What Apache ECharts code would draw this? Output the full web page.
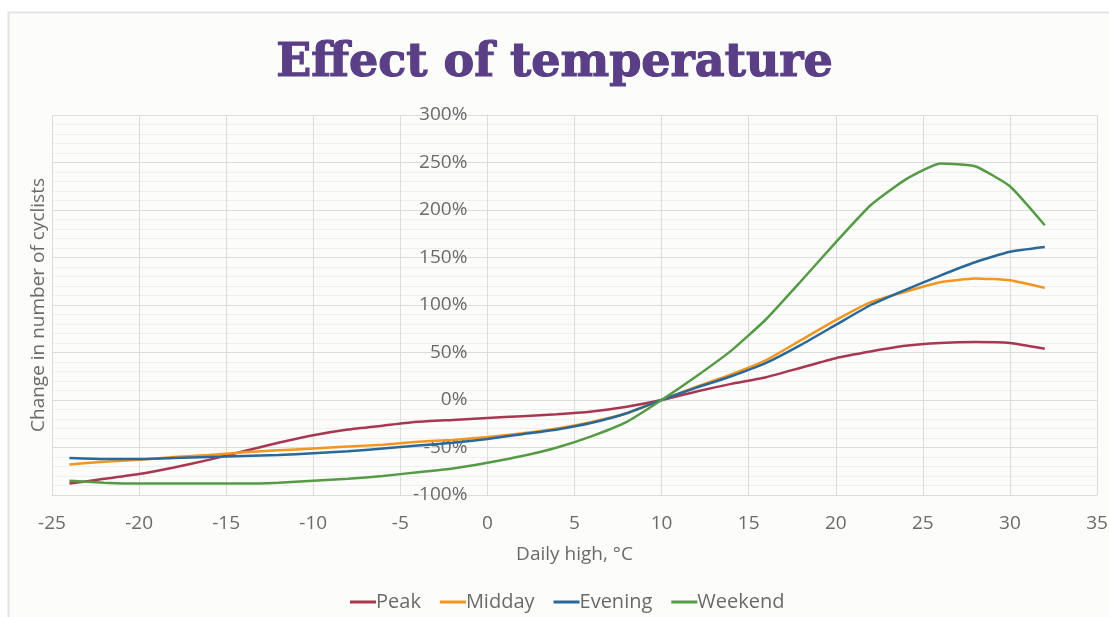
<!DOCTYPE html>
<html>
<head>
<meta charset="utf-8">
<title>Effect of temperature</title>
<script src="https://cdn.jsdelivr.net/npm/echarts@6/dist/echarts.min.js"></script>
<style>
  html, body { margin: 0; padding: 0; background: #ffffff; }
  #chart { width: 1109px; height: 617px; }
</style>
</head>
<body>
<div id="chart"></div>
<script>
// Daily high temperature (°C), sampled every 2 degrees
const temperatures = [-24, -22, -20, -18, -16, -14, -12, -10, -8, -6, -4, -2, 0, 2, 4, 6, 8,
                      10, 12, 14, 16, 18, 20, 22, 24, 26, 28, 30, 32];

// Change in number of cyclists (%) relative to a 10 °C day
const peak    = [-88, -83, -78, -71, -63, -54, -45, -37, -31, -27, -23, -21, -19, -17, -15, -12, -7,
                 0, 9, 17, 24, 34, 44, 51, 57, 60, 61, 60, 54];
const midday  = [-68, -65, -63, -60, -58, -55, -53, -51, -49, -47, -44, -42, -39, -35, -30, -23, -14,
                 0, 14, 27, 42, 63, 84, 103, 114, 124, 128, 126, 118];
const evening = [-61, -62, -62, -61, -60, -59, -58, -56, -54, -51, -48, -45, -41, -36, -31, -24, -14,
                 0, 13, 25, 39, 58, 79, 100, 116, 131, 145, 156, 161];
const weekend = [-85, -87, -88, -88, -88, -88, -87, -85, -83, -80, -76, -72, -66, -59, -50, -38, -23,
                 0, 25, 52, 85, 125, 166, 205, 232, 249, 246, 225, 184];

const seriesNames  = ['Peak', 'Midday', 'Evening', 'Weekend'];
const seriesValues = [peak, midday, evening, weekend];
const seriesColors = ['#a8384f', '#f2961f', '#2a6899', '#559a45'];

const xTicks = { min: -25, max: 35, interval: 5 };
const yTicks = { min: -100, max: 300, interval: 50 };

const labelFont = '"Open Sans", "DejaVu Sans", sans-serif';
const textGray = '#6a6a6a';
const gridColor = '#dcdcdc';

// plot rectangle
const gridLeft = 52, gridRight = 12, gridTop = 115, gridBottom = 122;
const plotWidth = 1109 - gridLeft - gridRight;
// the percentage scale sits on the 0 °C line
const zeroOffset = plotWidth * (0 - xTicks.min) / (xTicks.max - xTicks.min);

const chart = echarts.init(document.getElementById('chart'), null, { renderer: 'canvas' });

chart.setOption({
  backgroundColor: '#ffffff',
  animation: false,
  graphic: [{
    type: 'rect',
    z: -10,
    silent: true,
    shape: { x: 8.5, y: 12.5, width: 1120, height: 620 },
    style: { fill: '#fcfcfb', stroke: '#e4e4e4', lineWidth: 2 }
  }],
  title: {
    text: 'Effect of temperature',
    left: 'center',
    top: 36,
    textStyle: {
      fontFamily: '"DejaVu Serif", serif',
      fontWeight: 'bold',
      fontSize: 46,
      color: '#5a3e86',
      textBorderColor: '#5a3e86',
      textBorderWidth: 1.2
    }
  },
  legend: {
    top: 587,
    left: 345,
    itemWidth: 26,
    itemHeight: 3,
    itemGap: 19,
    icon: 'rect',
    textStyle: { fontFamily: labelFont, fontSize: 20, color: textGray, padding: [0, 0, 0, -5] },
    data: seriesNames
  },
  grid: {
    left: gridLeft, right: gridRight, top: gridTop, bottom: gridBottom,
    containLabel: false,
    outerBoundsMode: 'none'
  },
  xAxis: {
    type: 'value',
    min: xTicks.min,
    max: xTicks.max,
    interval: xTicks.interval,
    name: 'Daily high, °C',
    nameLocation: 'middle',
    nameGap: 50,
    nameMoveOverlap: false,
    nameTextStyle: { fontFamily: labelFont, fontSize: 19, color: textGray },
    axisLine: { show: true, onZero: false, lineStyle: { color: gridColor, width: 1 } },
    axisTick: { show: false },
    axisLabel: { fontFamily: labelFont, fontSize: 19, color: textGray, margin: 19 },
    splitLine: { show: true, lineStyle: { color: gridColor, width: 1 } }
  },
  yAxis: [{
    // gridlines and axis title
    type: 'value',
    position: 'left',
    min: yTicks.min,
    max: yTicks.max,
    interval: yTicks.interval,
    name: 'Change in number of cyclists',
    nameLocation: 'middle',
    nameGap: 4,
    nameRotate: 90,
    nameMoveOverlap: false,
    nameTextStyle: { fontFamily: labelFont, fontSize: 19, color: textGray },
    axisLine: { show: false },
    axisTick: { show: false },
    axisLabel: { show: false },
    splitLine: { show: true, lineStyle: { color: gridColor, width: 1 } },
    minorTick: { show: false, splitNumber: 5 },
    minorSplitLine: { show: true, lineStyle: { color: '#efefef', width: 1 } }
  }, {
    // percentage labels on the 0 °C line
    type: 'value',
    position: 'left',
    offset: -zeroOffset,
    min: yTicks.min,
    max: yTicks.max,
    interval: yTicks.interval,
    axisLine: { show: true, lineStyle: { color: gridColor, width: 1 } },
    axisTick: { show: false },
    axisLabel: { fontFamily: labelFont, fontSize: 19, color: textGray, margin: 20, formatter: '{value}%' },
    splitLine: { show: false }
  }],
  series: seriesNames.map((name, i) => ({
    name: name,
    type: 'line',
    yAxisIndex: 0,
    data: temperatures.map((t, k) => [t, seriesValues[i][k]]),
    showSymbol: false,
    smooth: 0.15,
    lineStyle: { color: seriesColors[i], width: 2.5 },
    itemStyle: { color: seriesColors[i] },
    z: 3
  }))
});
</script>
</body>
</html>
